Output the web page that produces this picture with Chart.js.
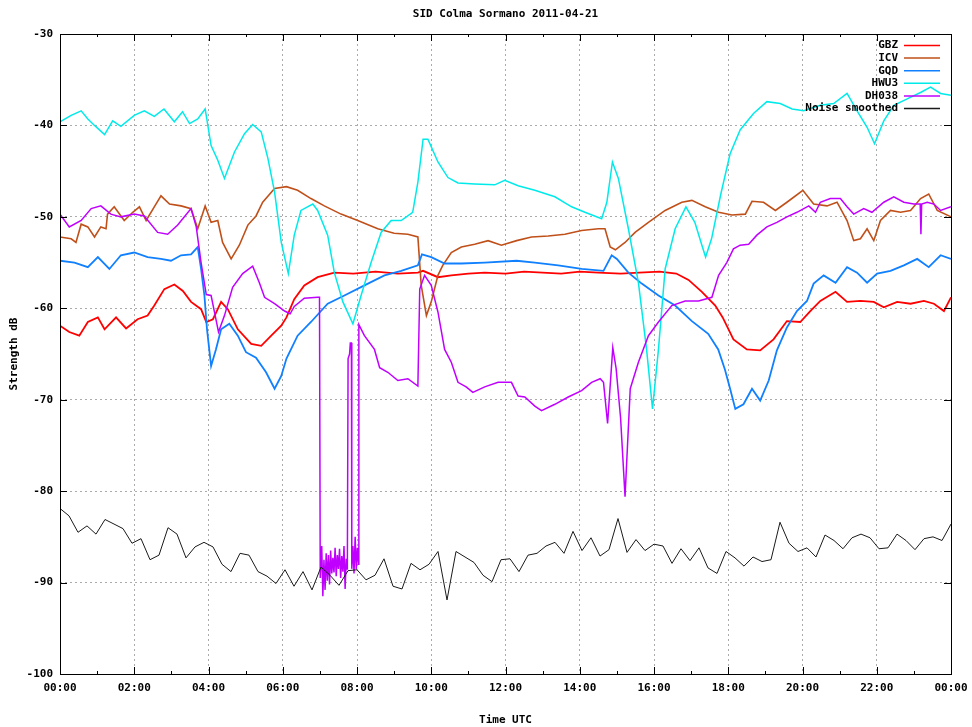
<!DOCTYPE html>
<html>
<head>
<meta charset="utf-8">
<title>SID Colma Sormano 2011-04-21</title>
<script src="https://cdn.jsdelivr.net/npm/chart.js@4.4.1/dist/chart.umd.min.js"></script>
<style>
  html, body { margin: 0; padding: 0; background: #fff; }
</style>
</head>
<body>
<canvas id="sidChart" width="972" height="727"></canvas>
<script>
// signal strength in dB; time in hours UTC
const gbzHours = [0, 0.25, 0.52, 0.75, 1.02, 1.2, 1.51, 1.78, 2.09, 2.36, 2.54, 2.81, 3.08, 3.31, 3.53, 3.8, 3.94, 4.12, 4.34, 4.52, 4.79, 5.15, 5.42, 5.69, 5.96, 6.1, 6.31, 6.58, 6.94, 7.39, 7.9, 8.5, 9.1, 9.64, 9.78, 10.18, 10.54, 11.0, 11.44, 12.0, 12.5, 13.0, 13.5, 14.0, 14.5, 15.1, 15.6, 16.15, 16.6, 16.93, 17.29, 17.65, 17.85, 18.14, 18.5, 18.86, 19.22, 19.58, 19.94, 20.21, 20.48, 20.89, 21.2, 21.56, 21.92, 22.19, 22.55, 22.91, 23.27, 23.54, 23.81, 24];
const gbzDb = [-61.9, -62.6, -63.0, -61.5, -61.0, -62.3, -61.0, -62.2, -61.2, -60.8, -59.7, -57.9, -57.4, -58.1, -59.3, -60.1, -61.5, -61.2, -59.3, -60.1, -62.3, -63.9, -64.1, -63.0, -61.9, -61.0, -59.0, -57.5, -56.6, -56.1, -56.2, -56.0, -56.2, -56.1, -55.9, -56.6, -56.4, -56.2, -56.1, -56.2, -56.0, -56.1, -56.2, -56.0, -56.1, -56.2, -56.1, -56.0, -56.2, -56.9, -58.2, -59.7, -61.0, -63.4, -64.5, -64.6, -63.4, -61.4, -61.5, -60.3, -59.2, -58.2, -59.3, -59.2, -59.3, -59.9, -59.3, -59.5, -59.2, -59.5, -60.3, -58.8];

const icvHours = [0, 0.3, 0.43, 0.57, 0.75, 0.93, 1.1, 1.24, 1.28, 1.46, 1.73, 1.96, 2.14, 2.32, 2.54, 2.72, 2.95, 3.26, 3.53, 3.71, 3.91, 4.07, 4.25, 4.38, 4.61, 4.83, 5.06, 5.28, 5.46, 5.78, 6.1, 6.4, 6.76, 7.12, 7.57, 8.02, 8.56, 9.0, 9.37, 9.64, 9.73, 9.87, 10.0, 10.18, 10.31, 10.54, 10.81, 11.17, 11.53, 11.89, 12.3, 12.7, 13.15, 13.6, 14.05, 14.5, 14.68, 14.82, 14.96, 15.22, 15.49, 15.85, 16.3, 16.75, 17.02, 17.38, 17.74, 18.1, 18.46, 18.64, 18.95, 19.27, 19.58, 20.01, 20.3, 20.66, 20.93, 21.2, 21.38, 21.56, 21.74, 21.92, 22.1, 22.37, 22.64, 22.91, 23.18, 23.4, 23.63, 24];
const icvDb = [-52.2, -52.4, -52.8, -50.8, -51.1, -52.2, -51.1, -51.3, -49.7, -48.9, -50.4, -49.5, -48.9, -50.4, -48.9, -47.7, -48.6, -48.8, -49.1, -51.3, -48.8, -50.6, -50.4, -52.8, -54.6, -53.1, -50.9, -49.9, -48.4, -46.9, -46.7, -47.1, -48.0, -48.8, -49.7, -50.4, -51.3, -51.8, -51.9, -52.2, -57.5, -60.8, -59.3, -56.4, -55.3, -53.9, -53.3, -53.0, -52.6, -53.1, -52.6, -52.2, -52.1, -51.9, -51.5, -51.3, -51.3, -53.3, -53.6, -52.8, -51.7, -50.6, -49.3, -48.4, -48.2, -48.9, -49.5, -49.8, -49.7, -48.3, -48.4, -49.3, -48.4, -47.1, -48.6, -48.8, -48.4, -50.4, -52.6, -52.4, -51.3, -52.6, -50.4, -49.3, -49.5, -49.3, -48.0, -47.5, -49.3, -50.0];

const gqdHours = [0, 0.39, 0.75, 1.02, 1.33, 1.64, 2.0, 2.36, 2.72, 2.99, 3.26, 3.53, 3.71, 3.8, 3.89, 3.96, 4.07, 4.2, 4.34, 4.56, 4.79, 5.01, 5.28, 5.55, 5.78, 5.96, 6.1, 6.4, 6.76, 7.21, 7.66, 8.2, 8.74, 9.19, 9.64, 9.75, 10.0, 10.36, 10.81, 11.44, 12.3, 12.79, 13.42, 14.05, 14.64, 14.86, 15.0, 15.31, 15.67, 16.12, 16.57, 17.02, 17.46, 17.73, 17.91, 18.05, 18.19, 18.41, 18.64, 18.86, 19.09, 19.31, 19.58, 19.85, 20.12, 20.3, 20.57, 20.89, 21.2, 21.47, 21.74, 22.01, 22.37, 22.73, 23.09, 23.4, 23.72, 24];
const gqdDb = [-54.8, -55.0, -55.5, -54.4, -55.7, -54.2, -53.9, -54.4, -54.6, -54.8, -54.2, -54.1, -53.3, -55.7, -58.6, -62.3, -66.3, -64.5, -62.3, -61.7, -63.0, -64.8, -65.4, -67.0, -68.8, -67.4, -65.5, -63.0, -61.5, -59.5, -58.6, -57.5, -56.4, -55.9, -55.3, -54.1, -54.4, -55.1, -55.1, -55.0, -54.8, -55.0, -55.3, -55.7, -55.9, -54.2, -54.6, -56.1, -57.3, -58.6, -59.7, -61.4, -62.8, -64.5, -66.7, -68.8, -71.0, -70.5, -68.8, -70.1, -67.9, -64.6, -62.1, -60.3, -59.2, -57.3, -56.4, -57.2, -55.5, -56.1, -57.2, -56.2, -55.9, -55.3, -54.6, -55.5, -54.2, -54.6];

const hwuHours = [0, 0.3, 0.57, 0.75, 0.93, 1.2, 1.42, 1.64, 2.0, 2.27, 2.54, 2.8, 3.08, 3.3, 3.49, 3.71, 3.91, 4.07, 4.25, 4.43, 4.7, 4.97, 5.19, 5.42, 5.6, 5.78, 5.96, 6.15, 6.31, 6.49, 6.81, 6.94, 7.21, 7.39, 7.62, 7.89, 8.11, 8.38, 8.65, 8.92, 9.19, 9.5, 9.64, 9.78, 9.91, 10.18, 10.45, 10.72, 11.17, 11.71, 11.98, 12.34, 12.79, 13.33, 13.78, 14.14, 14.59, 14.73, 14.88, 15.04, 15.31, 15.58, 15.8, 15.96, 16.12, 16.3, 16.57, 16.86, 17.1, 17.29, 17.39, 17.55, 17.8, 18.05, 18.32, 18.68, 19.04, 19.4, 19.72, 20.03, 20.48, 20.84, 21.2, 21.47, 21.74, 21.94, 22.19, 22.46, 22.82, 23.18, 23.45, 23.72, 24];
const hwuDb = [-39.6, -38.9, -38.4, -39.3, -40.0, -41.0, -39.5, -40.1, -38.9, -38.4, -39.0, -38.2, -39.6, -38.5, -39.8, -39.3, -38.2, -42.2, -43.8, -45.8, -42.9, -40.9, -39.9, -40.7, -43.6, -47.3, -52.8, -56.2, -52.0, -49.3, -48.6, -49.3, -52.0, -56.1, -59.3, -61.7, -58.6, -55.0, -51.7, -50.4, -50.4, -49.5, -46.2, -41.5, -41.5, -44.0, -45.7, -46.3, -46.4, -46.5, -46.0, -46.6, -47.1, -47.8, -48.9, -49.5, -50.2, -48.4, -44.0, -45.8, -51.3, -57.2, -64.5, -71.0, -64.5, -55.7, -51.3, -48.9, -50.6, -53.1, -54.4, -52.4, -47.5, -43.1, -40.5, -38.7, -37.4, -37.6, -38.2, -38.4, -37.8, -37.6, -36.5, -38.4, -40.2, -42.0, -39.5, -37.8, -37.1, -36.4, -35.8, -36.5, -36.7];

const dhoHours = [0, 0.25, 0.57, 0.84, 1.1, 1.37, 1.64, 2.0, 2.27, 2.63, 2.9, 3.17, 3.53, 3.67, 3.8, 3.94, 4.07, 4.16, 4.27, 4.43, 4.65, 4.92, 5.19, 5.37, 5.51, 5.78, 6.05, 6.2, 6.31, 6.58, 6.94, 6.99,
  7.01, 7.05, 7.08, 7.11, 7.14, 7.17, 7.2, 7.23, 7.26, 7.29, 7.32, 7.35, 7.38, 7.41, 7.44, 7.47, 7.5, 7.53, 7.56, 7.59, 7.62, 7.65, 7.68, 7.71, 7.74,
  7.76, 7.8, 7.82, 7.85, 7.86, 7.89, 7.92, 7.95, 7.98, 8.01, 8.04, 8.05,
  8.2, 8.47, 8.61, 8.83, 9.1, 9.37, 9.64, 9.69, 9.82, 10.0, 10.18, 10.36, 10.54, 10.72, 10.94, 11.12, 11.44, 11.8, 12.16, 12.34, 12.52, 12.79, 12.97, 13.33, 13.69, 14.05, 14.32, 14.55, 14.64, 14.75, 14.89, 14.98, 15.1, 15.22, 15.36, 15.58, 15.85, 16.12, 16.48, 16.84, 17.2, 17.56, 17.74, 17.96, 18.14, 18.32, 18.55, 18.77, 19.04, 19.31, 19.58, 19.85, 20.17, 20.35, 20.48, 20.75, 21.02, 21.2, 21.38, 21.65, 21.87, 22.19, 22.46, 22.73, 23.0, 23.17, 23.19, 23.21, 23.36, 23.54, 23.72, 24];
const dhoDb = [-49.7, -51.1, -50.4, -49.1, -48.8, -49.7, -50.0, -49.7, -49.9, -51.7, -51.9, -50.9, -49.1, -51.1, -55.0, -58.5, -58.6, -60.4, -62.6, -60.8, -57.7, -56.2, -55.4, -57.2, -58.8, -59.5, -60.3, -60.6, -59.8, -58.9, -58.8, -58.8,
  -89.5, -86.0, -91.5, -87.5, -90.8, -86.8, -89.8, -87.0, -90.2, -86.5, -89.0, -87.3, -88.9, -86.2, -89.3, -87.0, -88.5, -86.3, -89.5, -87.1, -88.8, -86.0, -90.7, -87.4, -88.6,
  -65.5, -65.0, -63.8, -63.8, -88.5, -86.0, -89.0, -85.0, -88.5, -86.2, -88.0, -61.8,
  -63.0, -64.5, -66.5, -67.0, -67.9, -67.7, -68.5, -57.9, -56.4, -57.5, -60.4, -64.5, -65.9, -68.1, -68.6, -69.2, -68.6, -68.1, -68.1, -69.6, -69.7, -70.7, -71.2, -70.5, -69.7, -69.0, -68.1, -67.7, -68.1, -72.6, -64.3, -66.6, -72.0, -80.6, -68.8, -65.9, -63.0, -61.5, -59.7, -59.2, -59.2, -58.8, -56.4, -55.0, -53.5, -53.1, -53.0, -52.0, -51.1, -50.6, -50.0, -49.5, -48.8, -49.5, -48.4, -48.0, -48.0, -48.9, -49.7, -49.1, -49.5, -48.4, -47.8, -48.4, -48.6, -48.6, -51.9, -48.6, -48.4, -48.6, -49.3, -48.9];

// smoothed noise floor, one reading about every 14.5 minutes
const noiseDb = [-81.9, -82.7, -84.5, -83.8, -84.7, -83.1, -83.6, -84.1, -85.7, -85.2, -87.5, -87.0, -84.0, -84.7, -87.3, -86.1, -85.6, -86.1, -88.0, -88.8, -86.8, -87.0, -88.8, -89.3, -90.1, -88.6, -90.4, -88.8, -90.8, -88.3, -89.2, -90.3, -88.7, -88.6, -89.7, -89.2, -87.4, -90.4, -90.7, -87.9, -88.6, -88.0, -86.6, -91.9, -86.6, -87.2, -87.8, -89.2, -89.9, -87.5,
  -87.4, -88.8, -87.0, -86.8, -86.0, -85.6, -86.8, -84.4, -86.5, -85.1, -87.1, -86.4, -83.0, -86.7, -85.3, -86.5, -85.8, -86.0, -87.9, -86.3, -87.6, -86.2, -88.4, -89.0, -86.6, -87.3, -88.2, -87.2, -87.7, -87.5, -83.4, -85.7, -86.6, -86.2, -87.2, -84.8, -85.4, -86.3, -85.1, -84.7, -85.1, -86.3, -86.2, -84.7, -85.4, -86.4, -85.2, -85.0, -85.4, -83.6];
const noiseStep = 24 / (noiseDb.length - 1);
const noiseHours = noiseDb.map((v, i) => i * noiseStep);

const FONT = "'DejaVu Sans Mono', 'Liberation Mono', monospace";
const GRID = '#ababab';

function pad2(n) {
    return (n < 10 ? '0' : '') + n;
}

function series(label, color, hours, db, width, order) {
    return {
        label: label,
        data: hours.map((h, i) => ({ x: h, y: db[i] })),
        borderColor: color,
        backgroundColor: color,
        borderWidth: width,
        pointRadius: 0,
        tension: 0,
        order: order
    };
}

// frame, inward tick marks and the legend in the top right corner, gnuplot style
const sidFrame = {
    id: 'sidFrame',
    afterDatasetsDraw(chart) {
        const { ctx, chartArea: a, scales: { x, y } } = chart;
        ctx.save();
        ctx.strokeStyle = '#000';
        ctx.lineWidth = 1;
        ctx.beginPath();
        x.ticks.forEach(t => {
            const px = Math.round(x.getPixelForValue(t.value)) + 0.5;
            const len = t.value % 2 ? 3 : 7;
            ctx.moveTo(px, a.bottom);
            ctx.lineTo(px, a.bottom - len);
            ctx.moveTo(px, a.top);
            ctx.lineTo(px, a.top + len);
        });
        y.ticks.forEach(t => {
            const py = Math.round(y.getPixelForValue(t.value)) + 0.5;
            ctx.moveTo(a.left, py);
            ctx.lineTo(a.left + 7, py);
            ctx.moveTo(a.right, py);
            ctx.lineTo(a.right - 7, py);
        });
        ctx.stroke();
        ctx.strokeRect(Math.round(a.left) + 0.5, Math.round(a.top) + 0.5,
            Math.round(a.right - a.left), Math.round(a.bottom - a.top));

        ctx.font = 'bold 11px ' + FONT;
        ctx.textAlign = 'right';
        ctx.textBaseline = 'middle';
        chart.data.datasets.forEach((ds, i) => {
            const ly = 45.5 + i * 12.6;
            ctx.fillStyle = '#000';
            ctx.fillText(ds.label, a.right - 53, ly);
            ctx.strokeStyle = ds.borderColor;
            ctx.lineWidth = 1.5;
            ctx.beginPath();
            ctx.moveTo(a.right - 47, ly);
            ctx.lineTo(a.right - 11, ly);
            ctx.stroke();
        });
        ctx.restore();
    }
};

const data = {
    datasets: [
        series('GBZ', '#ff0000', gbzHours, gbzDb, 1.8, 6),
        series('ICV', '#c0501a', icvHours, icvDb, 1.6, 5),
        series('GQD', '#1080ff', gqdHours, gqdDb, 1.8, 4),
        series('HWU3', '#00eaea', hwuHours, hwuDb, 1.5, 3),
        series('DH038', '#c000ff', dhoHours, dhoDb, 1.5, 2),
        series('Noise smoothed', '#1a1a1a', noiseHours, noiseDb, 1, 1)
    ]
};

const tickFont = { family: FONT, size: 11, weight: 'bold' };

const options = {
    responsive: false,
    animation: false,
    layout: {
        padding: { left: 0, right: 21, top: 0, bottom: 0 }
    },
    plugins: {
        legend: { display: false },
        tooltip: { enabled: false },
        title: {
            display: true,
            text: 'SID Colma Sormano 2011-04-21',
            fullSize: false,
            color: '#000',
            font: tickFont,
            padding: { top: 8, bottom: 12.8 }
        }
    },
    scales: {
        x: {
            type: 'linear',
            min: 0,
            max: 24,
            afterFit: s => {
                s.height = 53;
                s.paddingLeft = 0;
                s.paddingRight = 0;
            },
            ticks: {
                stepSize: 1,
                autoSkip: false,
                maxRotation: 0,
                padding: 8,
                color: '#000',
                font: tickFont,
                callback: v => (v % 2 ? '' : pad2(v % 24) + ':00')
            },
            grid: {
                drawTicks: false,
                color: c => (c.tick && (c.tick.value % 2 || c.tick.value === 0 || c.tick.value === 24) ? 'rgba(0,0,0,0)' : GRID)
            },
            border: { display: false, dash: [2, 3] },
            title: {
                display: true,
                text: 'Time UTC',
                color: '#000',
                font: tickFont,
                padding: { top: 3.5, bottom: 0 }
            }
        },
        y: {
            min: -100,
            max: -30,
            afterFit: s => { s.width = 60; },
            ticks: {
                stepSize: 10,
                padding: 7,
                color: '#000',
                font: tickFont
            },
            grid: {
                drawTicks: false,
                color: c => (c.tick && (c.tick.value === -30 || c.tick.value === -100) ? 'rgba(0,0,0,0)' : GRID)
            },
            border: { display: false, dash: [2, 3] },
            title: {
                display: true,
                text: 'Strength dB',
                color: '#000',
                font: tickFont,
                padding: { top: 8, bottom: 0 }
            }
        }
    }
};

new Chart(document.getElementById('sidChart').getContext('2d'), {
    type: 'line',
    data,
    options,
    plugins: [sidFrame]
});
</script>
</body>
</html>
